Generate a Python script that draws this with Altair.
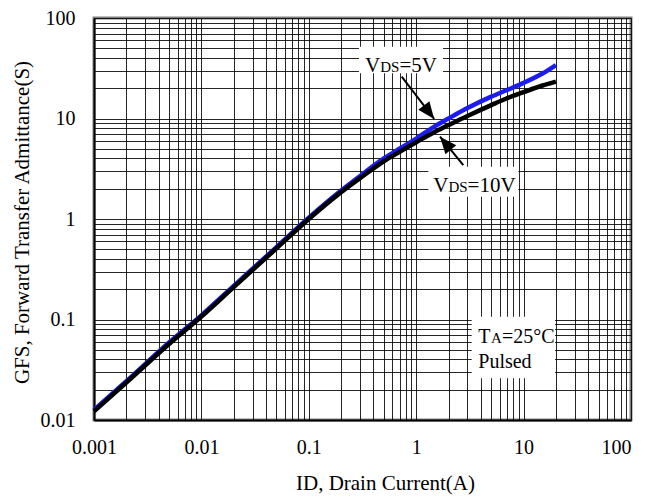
import altair as alt
import pandas as pd

# ---- data ----
id_10v = [0.001, 0.002, 0.005, 0.01, 0.02, 0.05, 0.1, 0.2, 0.3, 0.5, 0.7, 1, 1.5, 2, 3, 5, 7, 10, 15, 20]
gfs_10v = [0.0122, 0.0236, 0.057, 0.107, 0.21, 0.51, 1.0, 1.85, 2.55, 3.75, 4.65, 5.8, 7.4, 8.6, 10.6, 13.6, 15.9, 18.3, 21.3, 23.3]

id_5v = [0.001, 0.002, 0.005, 0.01, 0.02, 0.05, 0.1, 0.2, 0.3, 0.5, 0.7, 1, 1.5, 2, 3, 5, 7, 10, 15, 20]
gfs_5v = [0.0126, 0.0243, 0.059, 0.11, 0.216, 0.525, 1.03, 1.92, 2.68, 4.0, 5.0, 6.3, 8.4, 10.0, 12.7, 16.5, 19.2, 22.6, 28.0, 34.0]

x_tick_labels = ["0.001", "0.01", "0.1", "1", "10", "100"]
y_tick_labels = ["0.01", "0.1", "1", "10", "100"]

x_title = "ID, Drain Current(A)"
y_title = "GFS, Forward Transfer Admittance(S)"

FONT = "Liberation Serif"


def log_grid(lo_exp, hi_exp):
    vals = []
    for e in range(lo_exp, hi_exp):
        for m in range(1, 10):
            vals.append(round(m * 10 ** e, 6))
    vals.append(round(10 ** hi_exp, 6))
    return vals


x_grid = log_grid(-3, 2)
y_grid = log_grid(-2, 2)

x_dec = [float(v) for v in x_tick_labels]
y_dec = [float(v) for v in y_tick_labels]

x_label_expr = "indexof(%s, datum.value) >= 0 ? datum.value + '' : ''" % str(x_dec)
y_label_expr = "indexof(%s, datum.value) >= 0 ? datum.value + '' : ''" % str(y_dec)

df = pd.concat([
    pd.DataFrame({"id": id_5v, "gfs": gfs_5v, "series": "VDS=5V"}),
    pd.DataFrame({"id": id_10v, "gfs": gfs_10v, "series": "VDS=10V"}),
])

xs = alt.Scale(type="log", domain=[0.001, 100], nice=False)
ys = alt.Scale(type="log", domain=[0.01, 100], nice=False)

x_axis = alt.Axis(
    values=x_grid, labelExpr=x_label_expr, grid=True, ticks=False,
    labelFont=FONT, labelFontSize=20, labelColor="black", labelPadding=17,
    labelBaseline="top", labelFlush=False, labelOverlap=False,
    labelAlign={"expr": "datum.value >= 100 ? 'right' : 'center'"},
    domainColor="black", domainWidth=2,
    gridColor="black", gridWidth=1, gridOpacity=0.85,
    title=x_title, titleFont=FONT, titleFontSize=21, titleFontWeight="normal",
    titleColor="black", titleX=291, titleY=69, titleAlign="center",
    titleBaseline="alphabetic", titleAnchor="start",
)
y_axis = alt.Axis(
    values=y_grid, labelExpr=y_label_expr, grid=True, ticks=False,
    labelFont=FONT, labelFontSize=20, labelColor="black", labelPadding=19,
    labelBaseline="middle", labelOverlap=False, labelFlush=False,
    domainColor="black", domainWidth=2,
    gridColor="black", gridWidth=1, gridOpacity=0.85,
    title=y_title, titleFont=FONT, titleFontSize=21, titleFontWeight="normal",
    titleColor="black", titleX=-72, titleY=204, titleAngle=270,
    titleAlign="center", titleBaseline="middle", titleAnchor="start",
)

base = alt.Chart(df)

lines = base.mark_line(strokeWidth=4.5, interpolate="monotone").encode(
    x=alt.X("id:Q", scale=xs, axis=x_axis),
    y=alt.Y("gfs:Q", scale=ys, axis=y_axis),
    color=alt.Color("series:N", scale=alt.Scale(domain=["VDS=5V", "VDS=10V"],
                                                range=["#1c1cf0", "#000000"]), legend=None),
    order=alt.Order("series:N", sort="descending"),
    detail="series:N",
)

# ---- annotations (data coordinates) ----
boxes = pd.DataFrame({
    "x1": [0.293, 1.297, 3.288],
    "x2": [1.776, 8.93, 19.61],
    "y1": [51.8, 3.32, 0.1067],
    "y2": [28.2, 1.667, 0.026],
})
box_layer = alt.Chart(boxes).mark_rect(color="white").encode(
    x=alt.X("x1:Q", scale=xs), x2="x2:Q",
    y=alt.Y("y1:Q", scale=ys), y2="y2:Q",
)

arrows = pd.DataFrame({
    "xs": [0.733, 2.745], "ys": [26.1, 3.44],
    "xt": [1.47, 1.666], "yt": [9.9, 6.59],
    "ang": [142.6, 320.5],
})
shafts = alt.Chart(arrows).mark_rule(color="black", strokeWidth=2).encode(
    x=alt.X("xs:Q", scale=xs), x2="xt:Q",
    y=alt.Y("ys:Q", scale=ys), y2="yt:Q",
)
heads = alt.Chart(arrows).mark_point(
    shape="M0,0L-0.7,1.7L0.7,1.7Z", filled=True, color="black", opacity=1, size=400, strokeWidth=0
).encode(
    x=alt.X("xt:Q", scale=xs), y=alt.Y("yt:Q", scale=ys),
    angle=alt.Angle("ang:Q", scale=None),
)


def part(x, y, text, dx, size):
    d = pd.DataFrame({"x": [x], "y": [y], "t": [text]})
    return alt.Chart(d).mark_text(
        font=FONT, fontSize=size, align="left", baseline="alphabetic", dx=dx, color="black"
    ).encode(x=alt.X("x:Q", scale=xs), y=alt.Y("y:Q", scale=ys), text="t:N")


BIG, SMALL = 21, 15
w_V = 0.722 * BIG
w_DS = (0.722 + 0.556) * SMALL
w_T = 0.611 * BIG
w_A = 0.722 * SMALL

texts = [
    part(0.334, 29.2, "V", 0, BIG),
    part(0.334, 29.2, "DS", w_V, SMALL),
    part(0.334, 29.2, "=5V", w_V + w_DS, BIG),
    part(1.442, 1.87, "V", 0, BIG),
    part(1.442, 1.87, "DS", w_V, SMALL),
    part(1.442, 1.87, "=10V", w_V + w_DS, BIG),
    part(3.785, 0.0588, "T", 0, 20),
    part(3.785, 0.0588, "A", w_T, SMALL),
    part(3.785, 0.0588, "=25°C", w_T + w_A, 20),
    part(3.785, 0.0327, "Pulsed", 0, 20),
]

chart = alt.layer(lines, box_layer, shafts, heads, *texts).properties(
    width=537, height=402,
    autosize=alt.AutoSizeParams(type="none"),
    padding={"left": 86, "top": 10, "right": 10, "bottom": 75},
    background="white",
).configure_view(stroke="#808080", strokeWidth=3)

chart.save("out.html", embed_options={"renderer": "svg", "actions": False})
